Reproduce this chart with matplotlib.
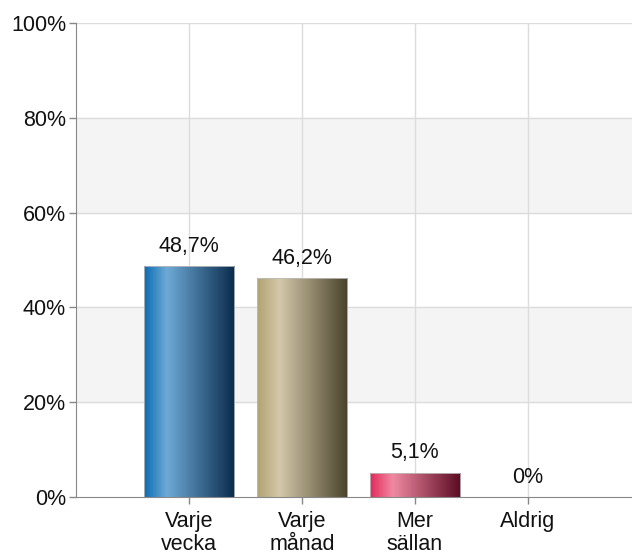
import numpy as np
import matplotlib
matplotlib.use("Agg")
import matplotlib.pyplot as plt
from matplotlib.colors import LinearSegmentedColormap

plt.rcParams['font.family'] = ['Liberation Sans', 'DejaVu Sans']

categories = ["Varje\nvecka", "Varje\nmånad", "Mer\nsällan", "Aldrig"]
values = [48.7, 46.2, 5.1, 0.0]
value_labels = ["48,7%", "46,2%", "5,1%", "0%"]
yticks = [0, 20, 40, 60, 80, 100]

# left, highlight, right colours of each bar's gradient
gradients = [
    ["#0c6cb4", "#6eaad6", "#0a2b4c"],
    ["#b2a373", "#d3c8a9", "#4a412c"],
    ["#e2285a", "#f08aa2", "#5a0a22"],
    ["#999999", "#dddddd", "#444444"],
]

fig = plt.figure(figsize=(6.32, 5.55), dpi=100)
ax = fig.add_axes([0.120, 0.1045, 0.88, 0.8541])

ax.set_xlim(-1, 3.92)
ax.set_ylim(0, 100)

# alternating bands
for lo in (20, 60):
    ax.axhspan(lo, lo + 20, color="#f4f4f4", zorder=0)
for y in yticks[1:]:
    ax.axhline(y, color="#dcdcdc", lw=1, zorder=1)
for i in range(len(categories)):
    ax.axvline(i, color="#dcdcdc", lw=1, zorder=1)

width = 0.8
x = np.arange(len(categories))
bars = ax.bar(x, values, width, color="none", edgecolor="none", zorder=2)
for b, cols, v in zip(bars, gradients, values):
    if v <= 0:
        continue
    cmap = LinearSegmentedColormap.from_list("g", [(0, cols[0]), (0.25, cols[1]), (1, cols[2])])
    grad = np.linspace(0, 1, 256).reshape(1, -1)
    bx, by = b.get_x(), b.get_y()
    im = ax.imshow(grad, cmap=cmap, aspect="auto", extent=[bx, bx + b.get_width(), by, by + b.get_height()],
                   zorder=2, interpolation="bicubic")
    im.set_clip_path(b)
    ax.add_patch(plt.Rectangle((bx, by), b.get_width(), b.get_height(), fill=False,
                               edgecolor="#bbbbbb", lw=0.6, zorder=3))

fs = 15.5
for xi, v, lab in zip(x, values, value_labels):
    ax.text(xi, v + 2.0, lab, ha="center", va="bottom", fontsize=fs, color="#111111", zorder=4)

ax.set_xticks(x)
ax.set_xticklabels(categories, fontsize=fs, linespacing=1.12)
ax.set_yticks(yticks)
ax.set_yticklabels([f"{t}%" for t in yticks], fontsize=fs)
ax.tick_params(axis="both", colors="#888888", labelcolor="#111111", length=5, width=1)
ax.tick_params(axis="x", pad=5)
ax.tick_params(axis="y", pad=2)

for s in ("top", "right"):
    ax.spines[s].set_visible(False)
ax.spines["left"].set_color("#888888")
ax.spines["bottom"].set_color("#888888")
ax.spines["left"].set_zorder(5)
ax.spines["bottom"].set_zorder(5)

fig.savefig("out.png", dpi=100)
